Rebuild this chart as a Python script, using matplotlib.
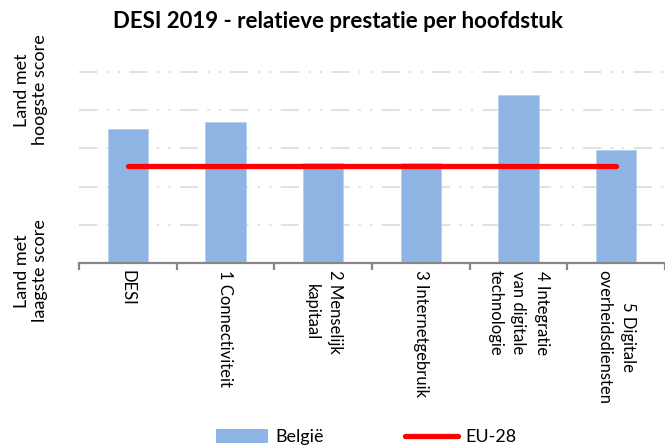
import numpy as np
import matplotlib
matplotlib.use('Agg')
import matplotlib.pyplot as plt
from matplotlib.lines import Line2D
from matplotlib.patches import Patch

plt.rcParams['font.family'] = ['Lato', 'DejaVu Sans']

# chapter names and scores (relative scale, 0 = lowest country, 5 = highest)
categories = ['DESI', '1 Connectiviteit', '2 Menselijk\nkapitaal', '3 Internetgebruik',
              '4 Integratie\nvan digitale\ntechnologie', '5 Digitale\noverheidsdiensten']
belgie = [3.51, 3.69, 2.62, 2.62, 4.40, 2.96]
eu28 = [2.53, 2.53, 2.53, 2.53, 2.53, 2.53]

bar_col = '#8DB4E2'
line_col = '#FF0000'

fig = plt.figure(figsize=(6.65, 4.47), dpi=100)
ax = fig.add_axes([79/665, 1-263/447, 1-79/665, (263-72)/447])

x = np.arange(len(categories))

# gridlines first so bars sit on top
for g in [1, 2, 3, 4, 5]:
    ax.axhline(g, color='#D9D9D9', lw=1.1, ls=(0, (12, 6, 1.5, 6, 1.5, 6)),
               zorder=0, clip_on=False)

ax.bar(x, belgie, width=0.41, color=bar_col, edgecolor='#B8D0EE', lw=0.6, zorder=2)
ax.plot(x, eu28, color=line_col, lw=3.8, solid_capstyle='round', zorder=3)

ax.set_xlim(-0.5, len(categories) - 0.5)
ax.set_ylim(0, 5)

for s in ['left', 'top', 'right']:
    ax.spines[s].set_visible(False)
ax.spines['bottom'].set_color('#868686')
ax.spines['bottom'].set_linewidth(1.6)

ax.set_yticks([])
ax.set_xticks(x)
ax.set_xticklabels(categories, rotation=-90, ha='center', va='top',
                   multialignment='center', fontsize=12)
for t in ax.get_xticklabels():
    t.set_linespacing(1.55)
ax.tick_params(axis='x', which='major', length=0, pad=5)
ax.set_xticks(np.arange(-0.5, len(categories), 1.0), minor=True)
ax.tick_params(axis='x', which='minor', length=5, width=1.6, color='#868686')

fig.text(338/665, 1-21/447, 'DESI 2019 - relatieve prestatie per hoofdstuk',
         ha='center', va='center', fontsize=16, fontweight='bold')

fig.text(31/665, 1-90/447, 'Land met\nhoogste score', rotation=90,
         ha='center', va='center', multialignment='center', fontsize=13,
         linespacing=1.2)
fig.text(31/665, 1-271/447, 'Land met\nlaagste score', rotation=90,
         ha='center', va='center', multialignment='center', fontsize=13,
         linespacing=1.2)

handles = [Patch(facecolor=bar_col, edgecolor='none'),
           Line2D([0], [0], color=line_col, lw=3.8, solid_capstyle='round')]
fig.legend(handles, ['België', 'EU-28'], loc='center', ncol=2,
           bbox_to_anchor=(366/665, 10/447), frameon=False, fontsize=13,
           handlelength=2.9, handleheight=0.8, handletextpad=0.4,
           columnspacing=4.5, borderpad=0.1)

fig.savefig('out.png', dpi=100)
